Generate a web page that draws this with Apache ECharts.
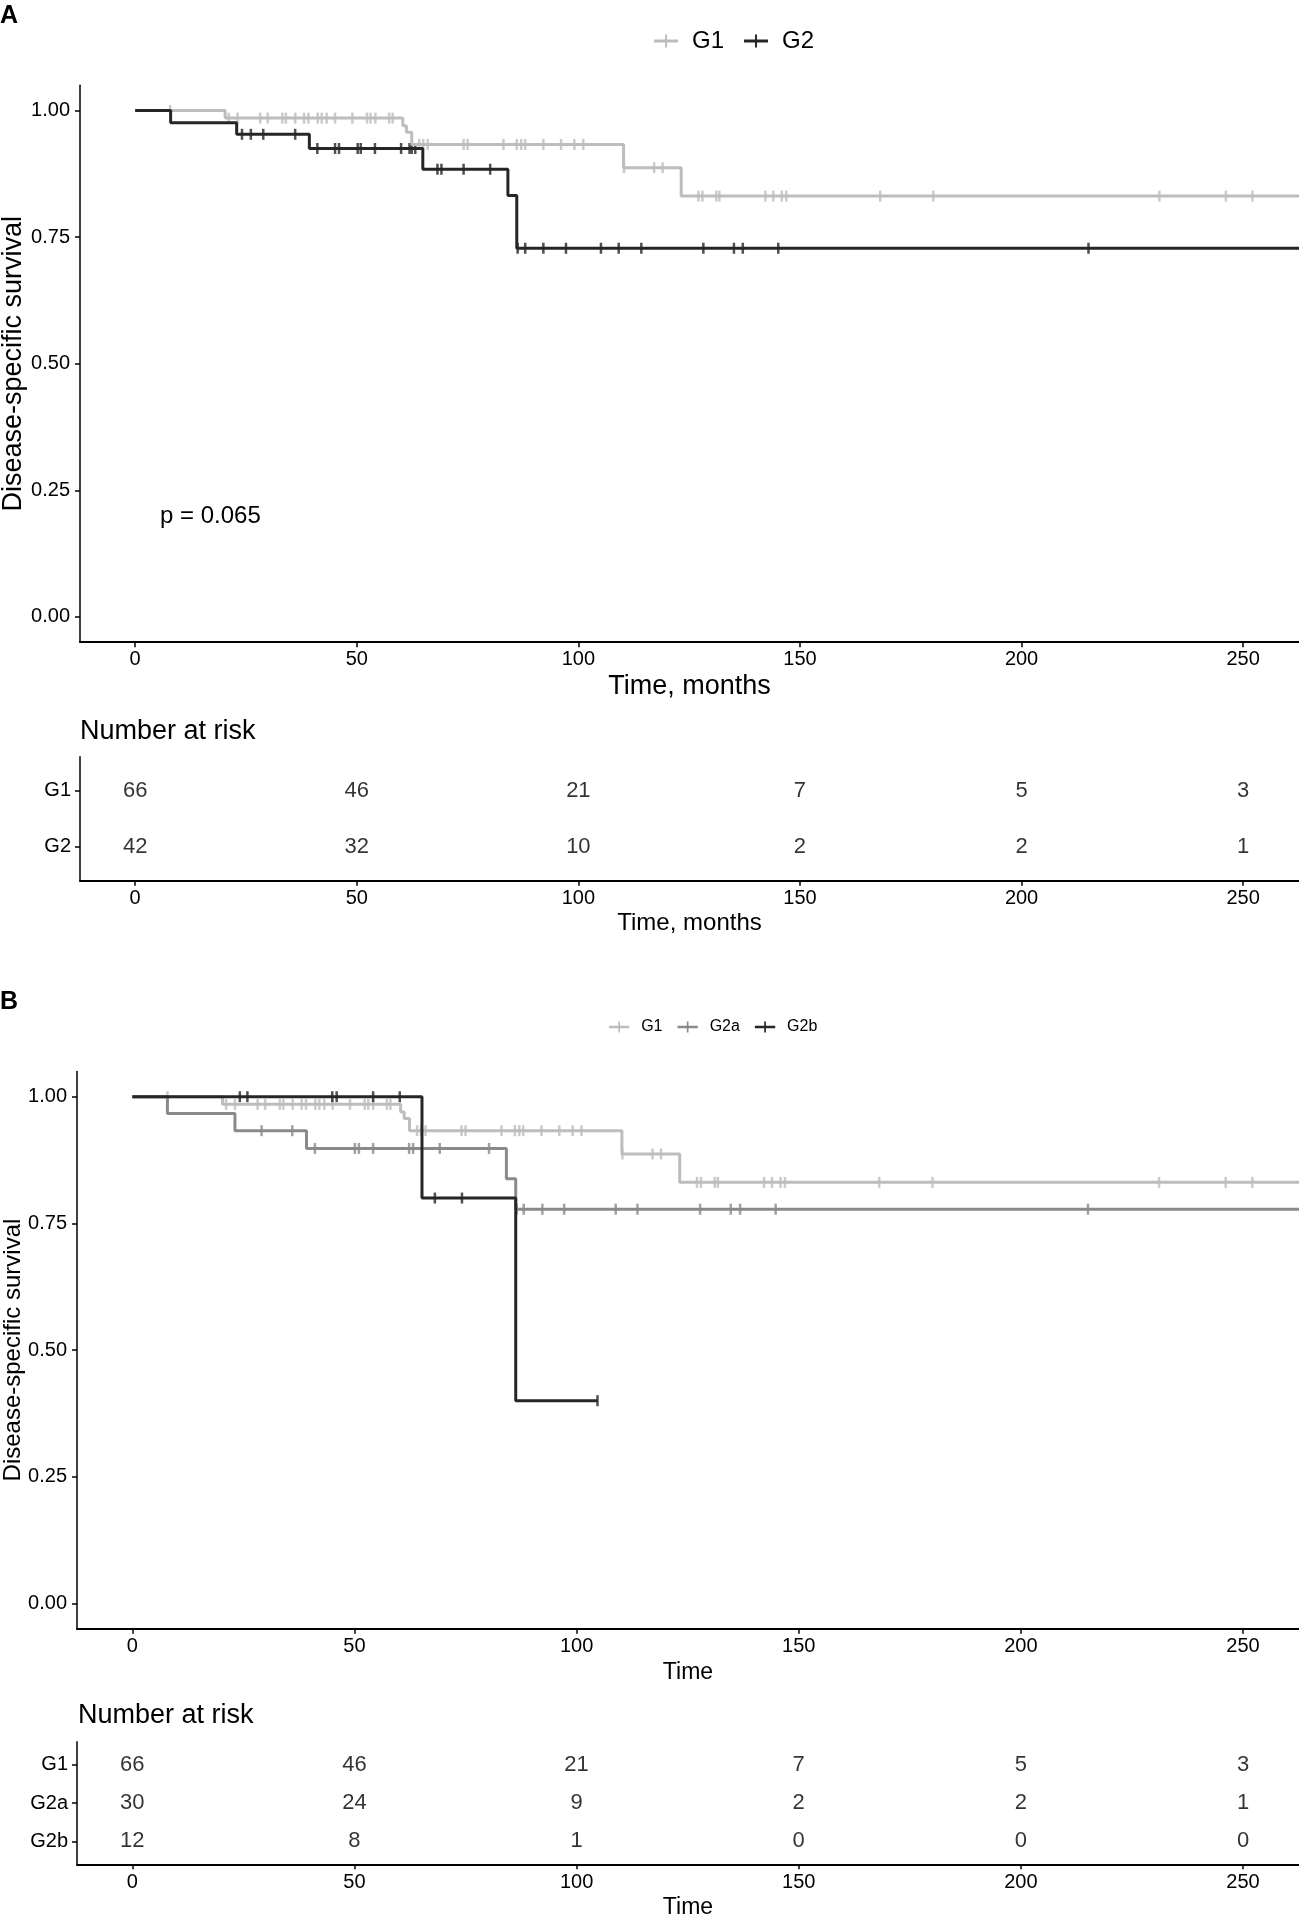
<!DOCTYPE html>
<html>
<head>
<meta charset="UTF-8">
<title>Disease-specific survival</title>
<style>
html,body{margin:0;padding:0;background:#fff;}
#main{width:1299px;height:1916px;}
</style>
</head>
<body>
<div id="main"></div>
<script src="https://cdn.jsdelivr.net/npm/echarts@6/dist/echarts.min.js"></script>
<script>
var timeTicks = [0, 50, 100, 150, 200, 250];
var survTicks = [0, 0.25, 0.5, 0.75, 1];

// G1 (same group in panel A and B): event times, survival after each event, censored times
var g1Times = [20.3, 60.4, 61.2, 62.4, 110.2, 123.2];
var g1Surv = [0.985, 0.970, 0.957, 0.933, 0.887, 0.831];
var g1Censor = [7.9, 21.1, 23.1, 28.2, 29.9, 33.2, 34.0, 36.1, 38.1, 39.1, 41.2, 42.1, 43.2, 45.1,
  49.0, 52.3, 53.1, 54.2, 57.3, 58.1, 64.1, 65.0, 66.0, 74.1, 75.0, 83.1, 86.1, 87.1, 88.0, 92.1,
  96.1, 99.1, 101.1, 110.3, 117.1, 119.0, 127.1, 128.0, 131.1, 131.8, 142.2, 144.0, 145.9, 146.9,
  168.1, 180.1, 231.1, 246.1, 252.1];
var g1End = 265;

// G2 (panel A)
var g2Times = [8.0, 22.9, 39.3, 64.9, 84.1, 86.1];
var g2Surv = [0.976, 0.953, 0.925, 0.884, 0.832, 0.728];
var g2Censor = [24.1, 26.1, 28.9, 36.1, 41.1, 45.1, 46.0, 50.2, 50.9, 54.1, 60.0, 61.9, 62.4, 63.2,
  68.2, 69.1, 74.1, 80.1, 86.3, 88.0, 92.1, 97.2, 105.1, 109.1, 114.2, 128.2, 135.1, 137.1, 145.1, 215.1];
var g2End = 265;

// G2a (panel B)
var g2aTimes = [7.9, 23.1, 39.2, 84.2, 86.3];
var g2aSurv = [0.967, 0.933, 0.898, 0.838, 0.778];
var g2aCensor = [29.1, 36.0, 41.1, 50.1, 51.0, 54.2, 62.3, 63.2, 69.2, 80.3, 86.5, 88.1, 92.3, 97.2,
  108.8, 113.7, 127.8, 134.7, 136.8, 144.8, 215.1];
var g2aEnd = 265;

// G2b (panel B)
var g2bTimes = [65.2, 86.3];
var g2bSurv = [0.8, 0.4];
var g2bCensor = [24.2, 25.9, 45.0, 46.0, 54.2, 60.2, 68.1, 74.2, 104.7];
var g2bEnd = 104.7;

// number at risk
var riskTimes = [0, 50, 100, 150, 200, 250];
var riskRowsA = ['G1', 'G2'];
var riskA_G1 = [66, 46, 21, 7, 5, 3];
var riskA_G2 = [42, 32, 10, 2, 2, 1];
var riskRowsB = ['G1', 'G2a', 'G2b'];
var riskB_G1 = [66, 46, 21, 7, 5, 3];
var riskB_G2a = [30, 24, 9, 2, 2, 1];
var riskB_G2b = [12, 8, 1, 0, 0, 0];

var cLight = '#BDBDBD', cMid = '#8A8A8A', cDark = '#262626';
var font = '"Liberation Sans", Arial, sans-serif';
var legendIcon = 'path://M0,5H24V8H0Z M11,0H13V13H11Z';

function stepLine(times, surv, end) {
  var d = [[0, 1]];
  for (var i = 0; i < times.length; i++) d.push([times[i], surv[i]]);
  d.push([end, surv[surv.length - 1]]);
  return d;
}
function survAt(times, surv, t) {
  var s = 1;
  for (var i = 0; i < times.length; i++) if (times[i] <= t) s = surv[i];
  return s;
}
function kmLine(name, color, idx, times, surv, end) {
  return {
    type: 'line', name: name, xAxisIndex: idx, yAxisIndex: idx, step: 'end',
    data: stepLine(times, surv, end), symbol: 'none', color: color,
    lineStyle: {color: color, width: 3}, itemStyle: {color: color}, silent: true
  };
}
function kmCensor(name, color, idx, times, surv, cens) {
  return {
    type: 'scatter', name: name, xAxisIndex: idx, yAxisIndex: idx,
    data: cens.map(function (t) { return [t, survAt(times, surv, t)]; }),
    symbol: 'rect', symbolSize: [2.5, 11], color: color, itemStyle: {color: color}, silent: true
  };
}
function riskSeries(idx, row, counts) {
  return {
    type: 'scatter', xAxisIndex: idx, yAxisIndex: idx, symbolSize: 1,
    itemStyle: {color: 'rgba(0,0,0,0)'}, silent: true,
    data: riskTimes.map(function (t, i) { return [t, row, counts[i]]; }),
    label: {show: true, position: 'inside', color: '#000', fontSize: 22, fontFamily: font,
      formatter: function (p) { return p.value[2]; }}
  };
}

function timeAxis(grid, name, labelMargin, nameGap, nameSize) {
  return {
    type: 'value', gridIndex: grid, min: -12.45, max: 262.6,
    axisLine: {onZero: false, lineStyle: {color: '#000', width: 2}},
    axisTick: {customValues: timeTicks, length: 5, lineStyle: {color: '#000', width: 1.5}},
    axisLabel: {customValues: timeTicks, fontSize: 20, color: '#000', margin: labelMargin, fontFamily: font},
    splitLine: {show: false},
    name: name, nameLocation: 'middle', nameGap: nameGap, nameMoveOverlap: false,
    nameTextStyle: {fontSize: nameSize, color: '#000', fontFamily: font}
  };
}
function survAxis(grid, nameSize, nameGap) {
  return {
    type: 'value', gridIndex: grid, min: -0.05, max: 1.05,
    axisLine: {onZero: false, lineStyle: {color: '#000', width: 1.5}},
    axisTick: {customValues: survTicks, length: 5, lineStyle: {color: '#000', width: 1.5}},
    axisLabel: {customValues: survTicks, fontSize: 20, color: '#000', margin: 10, fontFamily: font,
      formatter: function (v) { return v.toFixed(2); }},
    splitLine: {show: false},
    name: 'Disease-specific survival', nameLocation: 'middle', nameGap: nameGap, nameMoveOverlap: false,
    nameTextStyle: {fontSize: nameSize, color: '#000', fontFamily: font}
  };
}
function rowAxis(grid, rows) {
  var vals = rows.map(function (r, i) { return rows.length - i; });
  return {
    type: 'value', gridIndex: grid, min: 0.4, max: rows.length + 0.6,
    axisLine: {onZero: false, lineStyle: {color: '#000', width: 1.5}},
    axisTick: {customValues: vals, length: 5, lineStyle: {color: '#000', width: 1.5}},
    axisLabel: {customValues: vals, fontSize: 20, color: '#000', margin: 9, fontFamily: font,
      formatter: function (v) { return rows[rows.length - Math.round(v)]; }},
    splitLine: {show: false}
  };
}

var chart = echarts.init(document.getElementById('main'));
chart.setOption({
  animation: false,
  backgroundColor: '#fff',
  textStyle: {fontFamily: font},
  title: [
    {text: 'A', left: 0, top: 4, padding: 0, textStyle: {fontSize: 25, fontWeight: 'bold', color: '#000', fontFamily: font}},
    {text: 'B', left: 0, top: 990, padding: 0, textStyle: {fontSize: 25, fontWeight: 'bold', color: '#000', fontFamily: font}},
    {text: 'Number at risk', left: 80, top: 718, padding: 0, textStyle: {fontSize: 27, fontWeight: 'normal', color: '#000', fontFamily: font}},
    {text: 'Number at risk', left: 78, top: 1702, padding: 0, textStyle: {fontSize: 27, fontWeight: 'normal', color: '#000', fontFamily: font}},
    {text: 'p = 0.065', left: 160, top: 504, padding: 0, textStyle: {fontSize: 24, fontWeight: 'normal', color: '#000', fontFamily: font}}
  ],
  legend: [
    {data: [{name: 'G1', icon: legendIcon}, {name: 'G2', icon: legendIcon}],
      left: 654, top: 29, padding: 0, itemWidth: 24, itemHeight: 13, itemGap: 20,
      textStyle: {fontSize: 24, color: '#000', padding: [0, 0, 0, 9], fontFamily: font}},
    {data: [{name: 'G1', icon: legendIcon}, {name: 'G2a', icon: legendIcon}, {name: 'G2b', icon: legendIcon}],
      left: 609, top: 1019, padding: 0, itemWidth: 22, itemHeight: 11, itemGap: 15,
      textStyle: {fontSize: 16, color: '#000', padding: [0, 0, 0, 6], fontFamily: font}}
  ],
  grid: [
    {left: 80, top: 85.2, width: 1219, height: 557, outerBoundsMode: 'none', containLabel: false},
    {left: 80, top: 756.7, width: 1219, height: 124, outerBoundsMode: 'none', containLabel: false},
    {left: 77, top: 1071.4, width: 1222, height: 557.3, outerBoundsMode: 'none', containLabel: false},
    {left: 77, top: 1741.7, width: 1222, height: 122.6, outerBoundsMode: 'none', containLabel: false}
  ],
  xAxis: [
    timeAxis(0, 'Time, months', 7, 31, 27),
    timeAxis(1, 'Time, months', 7.5, 30.5, 24),
    timeAxis(2, 'Time', 8, 32, 23),
    timeAxis(3, 'Time', 8.5, 31.5, 23)
  ],
  yAxis: [
    survAxis(0, 27, 52.5),
    rowAxis(1, riskRowsA),
    survAxis(2, 24, 52),
    rowAxis(3, riskRowsB)
  ],
  series: [
    kmLine('G1', cLight, 0, g1Times, g1Surv, g1End),
    kmLine('G2', cDark, 0, g2Times, g2Surv, g2End),
    kmCensor('G1', cLight, 0, g1Times, g1Surv, g1Censor),
    kmCensor('G2', cDark, 0, g2Times, g2Surv, g2Censor),
    riskSeries(1, 2, riskA_G1),
    riskSeries(1, 1, riskA_G2),
    kmLine('G1', cLight, 2, g1Times, g1Surv, g1End),
    kmLine('G2a', cMid, 2, g2aTimes, g2aSurv, g2aEnd),
    kmLine('G2b', cDark, 2, g2bTimes, g2bSurv, g2bEnd),
    kmCensor('G1', cLight, 2, g1Times, g1Surv, g1Censor),
    kmCensor('G2a', cMid, 2, g2aTimes, g2aSurv, g2aCensor),
    kmCensor('G2b', cDark, 2, g2bTimes, g2bSurv, g2bCensor),
    riskSeries(3, 3, riskB_G1),
    riskSeries(3, 2, riskB_G2a),
    riskSeries(3, 1, riskB_G2b)
  ]
});
</script>
</body>
</html>
